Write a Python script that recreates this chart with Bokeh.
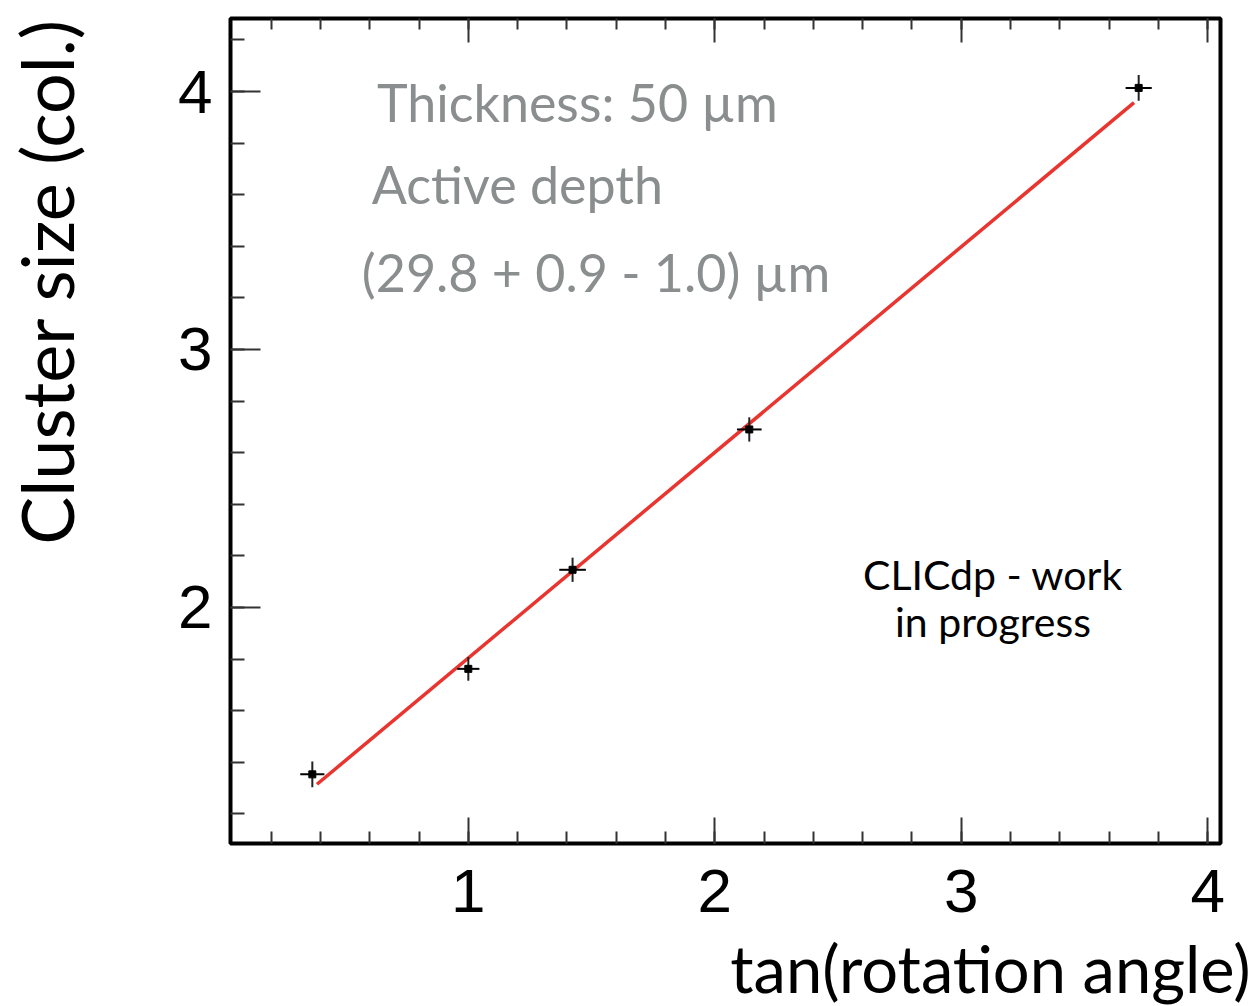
from bokeh.plotting import figure
from bokeh.models import Range1d, FixedTicker, LinearAxis, Label, Title, ColumnDataSource
from bokeh.embed import file_html
from bokeh.resources import INLINE

# ---- data ----
tan_angle = [0.367, 1.000, 1.423, 2.140, 3.720]
tan_err = [0.049, 0.045, 0.054, 0.050, 0.053]
cluster_size = [1.353, 1.762, 2.146, 2.690, 4.014]
cluster_err = [0.050, 0.046, 0.047, 0.047, 0.050]

fit_slope = 0.797
fit_intercept = 1.007
fit_x = [0.386, 3.701]

x_major = [1, 2, 3, 4]
x_tick_labels = ["1", "2", "3", "4"]
y_major = [2, 3, 4]
y_tick_labels = ["2", "3", "4"]
x_minor = [round(0.2 * k, 1) for k in range(1, 21)]
y_minor = [round(0.2 * k, 1) for k in range(6, 22)]

annotation_lines = ["Thickness: 50 µm", "Active depth", "(29.8 + 0.9 - 1.0) µm"]
stamp_lines = ["CLICdp - work", "in progress"]
x_title = "tan(rotation angle)"
y_title = "Cluster size (col.)"

# ---- figure ----
p = figure(frame_width=990, frame_height=825,
           x_range=Range1d(0.035, 4.052), y_range=Range1d(1.085, 4.283),
           output_backend="svg", toolbar_location=None,
           x_axis_location=None, y_axis_location=None,
           min_border_left=230, min_border_right=37,
           min_border_top=18, min_border_bottom=163)
p.background_fill_color = "white"
p.border_fill_color = "white"
p.grid.visible = False
p.outline_line_color = "black"
p.outline_line_width = 4


def style_axis(ax, ticks, minor, labels, tick_in, minor_in, show_labels=True, standoff=14):
    ax.ticker = FixedTicker(ticks=ticks, minor_ticks=minor)
    ax.axis_line_color = None
    ax.major_tick_in = tick_in
    ax.major_tick_out = 0
    ax.minor_tick_in = minor_in
    ax.minor_tick_out = 0
    ax.major_tick_line_color = "#333333"
    ax.major_tick_line_width = 2
    ax.minor_tick_line_color = "#333333"
    ax.minor_tick_line_width = 2
    ax.major_label_text_font = "Liberation Sans"
    ax.major_label_text_font_size = "62px"
    ax.major_label_text_color = "black"
    if show_labels:
        ax.major_label_overrides = {t: l for t, l in zip(ticks, labels)}
        ax.major_label_standoff = standoff
    else:
        ax.major_label_overrides = {t: "" for t in ticks}
        ax.major_label_standoff = 0


xb = LinearAxis()
style_axis(xb, x_major, x_minor, x_tick_labels, 26, 12, True, 26)
p.add_layout(xb, "below")

xt = LinearAxis()
style_axis(xt, x_major, x_minor, x_tick_labels, 24, 11, False)
p.add_layout(xt, "above")

yl = LinearAxis()
style_axis(yl, y_major, y_minor, y_tick_labels, 30, 14, True, 18)
p.add_layout(yl, "left")

# blank spacer panel that pushes the y title outward
p.add_layout(Title(text=" ", text_font_size="10px", standoff=74), "left")

# ---- fit line ----
fit_y = [fit_intercept + fit_slope * x for x in fit_x]
p.line(fit_x, fit_y, line_color="#e8352f", line_width=3.5)

# ---- data points with error bars ----
src = ColumnDataSource(dict(
    x=tan_angle, y=cluster_size,
    xl=[x - e for x, e in zip(tan_angle, tan_err)],
    xr=[x + e for x, e in zip(tan_angle, tan_err)],
    yl=[y - e for y, e in zip(cluster_size, cluster_err)],
    yh=[y + e for y, e in zip(cluster_size, cluster_err)],
))
p.segment(x0="xl", y0="y", x1="xr", y1="y", source=src, line_color="black", line_width=2)
p.segment(x0="x", y0="yl", x1="x", y1="yh", source=src, line_color="#222222", line_width=2)
p.scatter(x="x", y="y", source=src, marker="square", size=7, fill_color="black", line_color="black")

# ---- text annotations ----
gray = "#8a8e8e"
text_pos = [(0.629, 3.960), (0.608, 3.640), (0.568, 3.302)]
for (tx, ty), t in zip(text_pos, annotation_lines):
    p.add_layout(Label(x=tx, y=ty, text=t, text_font="Lato", text_font_size="52px",
                       text_color=gray, text_align="left", text_baseline="alphabetic"))

stamp_pos = [(3.129, 2.129), (3.129, 1.947)]
for (tx, ty), t in zip(stamp_pos, stamp_lines):
    p.add_layout(Label(x=tx, y=ty, text=t, text_font="Lato", text_font_size="41px",
                       text_color="black", text_align="center", text_baseline="alphabetic"))

# ---- axis titles ----
p.add_layout(Title(text=x_title, align="right", offset=-30, standoff=25,
                   text_font="Lato", text_font_size="65px", text_font_style="normal",
                   text_color="black"), "below")
p.add_layout(Title(text=y_title, align="right", offset=0, standoff=0,
                   text_font="Lato", text_font_size="72px", text_font_style="normal",
                   text_color="black"), "left")

open("out.html", "w").write(file_html(p, INLINE))
